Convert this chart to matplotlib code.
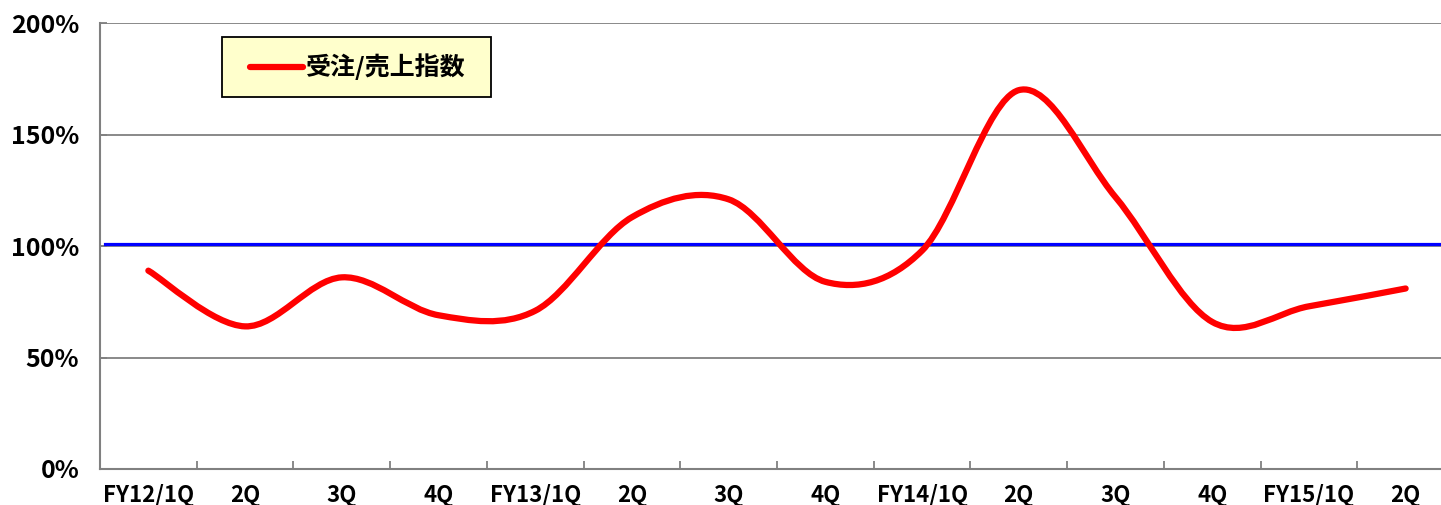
import numpy as np
import matplotlib
matplotlib.use('Agg')
import matplotlib.pyplot as plt
from matplotlib.path import Path
from matplotlib.patches import PathPatch, Rectangle
from matplotlib.lines import Line2D

plt.rcParams['font.family'] = ['Noto Sans CJK JP', 'DejaVu Sans']

# data (percent)
quarters = ['FY12/1Q', '2Q', '3Q', '4Q', 'FY13/1Q', '2Q', '3Q', '4Q',
            'FY14/1Q', '2Q', '3Q', '4Q', 'FY15/1Q', '2Q']
index_values = [89, 64, 86, 69, 71, 113, 121, 84, 98, 170, 122, 66, 73, 81]
reference_level = 101
y_ticks = [0, 50, 100, 150, 200]
series_name = '受注/売上指数'


def smooth_path(xs, ys):
    # excel-like smoothed line: bezier through every point
    pts = np.column_stack([xs, ys]).astype(float)
    n = len(pts)
    verts = [pts[0]]
    codes = [Path.MOVETO]
    for i in range(n - 1):
        p0 = pts[i - 1] if i > 0 else pts[i]
        p1 = pts[i]
        p2 = pts[i + 1]
        p3 = pts[i + 2] if i + 2 < n else pts[i + 1]
        verts += [p1 + (p2 - p0) / 6, p2 - (p3 - p1) / 6, p2]
        codes += [Path.CURVE4] * 3
    return Path(verts, codes)


W, H = 1441, 505
fig = plt.figure(figsize=(W / 100, H / 100), dpi=100)
ax = fig.add_axes([100 / W, 36 / H, 1354 / W, 445.7 / H])

x = np.arange(len(quarters))
ax.set_xlim(-0.5, len(quarters) - 0.5)
ax.set_ylim(0, 200)

ax.set_yticks(y_ticks)
ax.set_yticklabels([f'{v}%' for v in y_ticks])
ax.grid(axis='y', color='#808080', linewidth=1.3)
ax.set_axisbelow(True)

ax.set_xticks(np.arange(len(quarters) + 1) - 0.5)
ax.set_xticklabels([])
ax.set_xticks(x, minor=True)
ax.set_xticklabels(quarters, minor=True)
ax.tick_params(axis='x', which='major', direction='in', length=6, width=1.3, color='#808080')
ax.tick_params(axis='x', which='minor', length=0, pad=11, labelsize=16)
ax.tick_params(axis='y', direction='in', length=5, width=1.3, color='#808080', pad=15, labelsize=18)
for lab in ax.get_xticklabels(minor=True) + ax.get_yticklabels():
    lab.set_fontweight('bold')

for s in ['top', 'right']:
    ax.spines[s].set_visible(False)
for s in ['left', 'bottom']:
    ax.spines[s].set_color('#808080')
    ax.spines[s].set_linewidth(1.5)

ax.axhline(reference_level, xmin=0.004, color='#0000FF', linewidth=2.3, zorder=3)

patch = PathPatch(smooth_path(x, index_values), facecolor='none', edgecolor='#FF0000',
                  linewidth=4.5, capstyle='round', joinstyle='round', zorder=4)
ax.add_patch(patch)

# legend box
fig.add_artist(Rectangle((222 / W, 1 - 97 / H), 269 / W, 60 / H, transform=fig.transFigure,
                         facecolor='#FFFFCC', edgecolor='black', linewidth=1.3, zorder=5))
handle = Line2D([], [], color='#FF0000', linewidth=4.5, solid_capstyle='round')
leg = fig.legend([handle], [series_name], loc='center left',
                 bbox_to_anchor=(250 / W, 1 - 67 / H), bbox_transform=fig.transFigure,
                 borderaxespad=0, borderpad=0, handlelength=2.1, handletextpad=0.12,
                 frameon=False, prop={'size': 18, 'weight': 'bold'})
leg.set_zorder(6)

fig.savefig('out.png', dpi=100)
